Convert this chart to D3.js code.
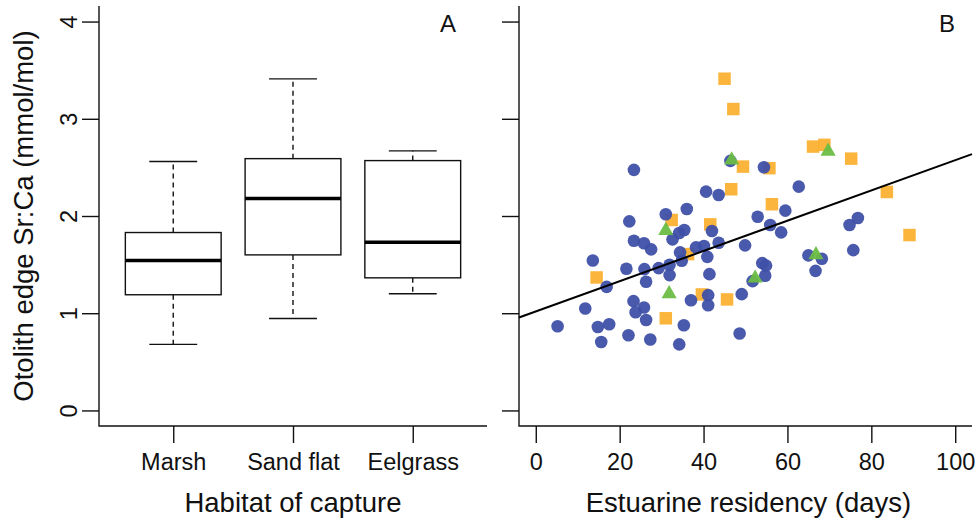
<!DOCTYPE html>
<html>
<head>
<meta charset="utf-8">
<script src="https://cdn.jsdelivr.net/npm/d3@7"></script>
<style>
  body { margin: 0; background: #fff; }
  svg { font-family: "Liberation Sans", Arial, Helvetica, sans-serif; }
</style>
</head>
<body>
<div id="chart"></div>
<script>
// panel A: boxplot by habitat
var habitats = ["Marsh", "Sand flat", "Eelgrass"];
var whiskerLow = [0.68, 0.945, 1.20];
var q1 = [1.19, 1.60, 1.364];
var medians = [1.543, 2.18, 1.73];
var q3 = [1.83, 2.59, 2.57];
var whiskerHigh = [2.56, 3.41, 2.67];
var yTicks = [0, 1, 2, 3, 4];

// panel B: residency vs Sr:Ca
var circleX = [23.4, 40.6, 43.6, 36.0, 31.0, 22.3, 34.2, 35.4, 32.6, 23.4, 25.8, 27.5, 38.2, 40.1, 43.6, 42.0,
  46.4, 13.6, 34.4, 40.9, 21.6, 25.9, 29.3, 31.9, 34.8, 31.9, 26.3, 41.4, 16.9, 11.8, 23.3, 25.8, 23.8, 26.3,
  41.1, 41.1, 37.0, 5.2, 14.8, 17.5, 22.1, 15.6, 27.3, 34.2, 35.3, 49.1, 48.6, 54.4, 62.7, 52.9, 55.9, 59.5,
  58.5, 49.9, 74.8, 76.8, 75.7, 65.0, 68.2, 66.7, 54.0, 54.9, 54.7, 51.7];
var circleY = [2.474, 2.251, 2.216, 2.072, 2.018, 1.945, 1.825, 1.856, 1.760, 1.745, 1.719, 1.657, 1.677, 1.691, 1.725, 1.845,
  2.567, 1.543, 1.626, 1.580, 1.457, 1.454, 1.464, 1.498, 1.539, 1.392, 1.323, 1.402, 1.271, 1.048, 1.124, 1.059, 1.010, 0.931,
  1.186, 1.082, 1.134, 0.866, 0.859, 0.887, 0.773, 0.704, 0.729, 0.680, 0.876, 1.196, 0.791, 2.502, 2.302, 1.993, 1.907, 2.055,
  1.832, 1.698, 1.907, 1.979, 1.649, 1.595, 1.560, 1.436, 1.515, 1.490, 1.385, 1.330];
var squareX = [45.0, 47.1, 46.6, 32.4, 41.6, 36.3, 14.5, 39.6, 45.6, 31.0, 49.4, 55.7, 56.3, 66.1, 68.8, 75.2, 83.7, 89.1];
var squareY = [3.412, 3.100, 2.275, 1.959, 1.914, 1.608, 1.368, 1.193, 1.142, 0.948, 2.508, 2.492, 2.121, 2.714, 2.732, 2.590, 2.247, 1.804];
var triangleX = [31.0, 31.8, 46.7, 69.7, 66.8, 52.3];
var triangleY = [1.85, 1.20, 2.575, 2.665, 1.60, 1.36];
var fitIntercept = 1.018;
var fitSlope = 0.01556;
var xTicksB = [0, 20, 40, 60, 80, 100];

var width = 977, height = 520;
var plotTop = 6, plotBottom = 426;

var svg = d3.select("#chart").append("svg")
  .attr("width", width)
  .attr("height", height);

var yScale = d3.scaleLinear().domain([-0.16, 4.16]).range([plotBottom, plotTop]);

// ---------- panel A ----------
var xA = d3.scaleLinear().domain([0.38, 3.62]).range([99, 487]);
var gA = svg.append("g");

var yAxisA = d3.axisLeft(yScale).tickValues(yTicks).tickSize(17).tickFormat(d3.format("d"));
var yAxisAg = gA.append("g").attr("transform", "translate(99,0)").call(yAxisA);
yAxisAg.select(".domain").remove();

var xAxisA = d3.axisBottom(xA).tickValues([1, 2, 3]).tickSize(17).tickFormat((d, i) => habitats[i]);
var xAxisAg = gA.append("g").attr("transform", `translate(0,${plotBottom})`).call(xAxisA);
xAxisAg.select(".domain").remove();

// L shaped frame
gA.append("path")
  .attr("d", `M${xA.range()[0]},${plotTop}V${plotBottom}H${xA.range()[1]}`)
  .attr("fill", "none").attr("stroke", "#111").attr("stroke-width", 1.4);

var boxes = gA.selectAll(".box").data(habitats).enter().append("g").attr("class", "box");
var bw = 0.4;

boxes.append("line")
  .attr("x1", (d, i) => xA(i + 1)).attr("x2", (d, i) => xA(i + 1))
  .attr("y1", (d, i) => yScale(q3[i])).attr("y2", (d, i) => yScale(whiskerHigh[i]))
  .attr("stroke", "#111").attr("stroke-width", 1.4).attr("stroke-dasharray", "5,4");
boxes.append("line")
  .attr("x1", (d, i) => xA(i + 1)).attr("x2", (d, i) => xA(i + 1))
  .attr("y1", (d, i) => yScale(q1[i])).attr("y2", (d, i) => yScale(whiskerLow[i]))
  .attr("stroke", "#111").attr("stroke-width", 1.4).attr("stroke-dasharray", "5,4");
boxes.append("line")
  .attr("x1", (d, i) => xA(i + 1 - bw / 2)).attr("x2", (d, i) => xA(i + 1 + bw / 2))
  .attr("y1", (d, i) => yScale(whiskerHigh[i])).attr("y2", (d, i) => yScale(whiskerHigh[i]))
  .attr("stroke", "#111").attr("stroke-width", 1.4);
boxes.append("line")
  .attr("x1", (d, i) => xA(i + 1 - bw / 2)).attr("x2", (d, i) => xA(i + 1 + bw / 2))
  .attr("y1", (d, i) => yScale(whiskerLow[i])).attr("y2", (d, i) => yScale(whiskerLow[i]))
  .attr("stroke", "#111").attr("stroke-width", 1.4);
boxes.append("rect")
  .attr("x", (d, i) => xA(i + 1 - bw))
  .attr("width", (d, i) => xA(i + 1 + bw) - xA(i + 1 - bw))
  .attr("y", (d, i) => yScale(q3[i]))
  .attr("height", (d, i) => yScale(q1[i]) - yScale(q3[i]))
  .attr("fill", "#fff").attr("stroke", "#111").attr("stroke-width", 1.4);
boxes.append("line")
  .attr("x1", (d, i) => xA(i + 1 - bw)).attr("x2", (d, i) => xA(i + 1 + bw))
  .attr("y1", (d, i) => yScale(medians[i])).attr("y2", (d, i) => yScale(medians[i]))
  .attr("stroke", "#000").attr("stroke-width", 3.4);

gA.append("text").attr("x", 448).attr("y", 32).attr("text-anchor", "middle")
  .attr("font-size", 24).attr("fill", "#111").text("A");

// ---------- panel B ----------
var xB = d3.scaleLinear().domain([-4, 104]).range([519, 972]);
var gB = svg.append("g");

var yAxisB = d3.axisLeft(yScale).tickValues(yTicks).tickSize(17).tickFormat("");
var yAxisBg = gB.append("g").attr("transform", "translate(519,0)").call(yAxisB);
yAxisBg.select(".domain").remove();

var xAxisB = d3.axisBottom(xB).tickValues(xTicksB).tickSize(17).tickFormat(d3.format("d"));
var xAxisBg = gB.append("g").attr("transform", `translate(0,${plotBottom})`).call(xAxisB);
xAxisBg.select(".domain").remove();

gB.append("path")
  .attr("d", `M${xB.range()[0]},${plotTop}V${plotBottom}H${xB.range()[1]}`)
  .attr("fill", "none").attr("stroke", "#111").attr("stroke-width", 1.4);

gB.selectAll(".sq").data(squareX).enter().append("path")
  .attr("class", "sq")
  .attr("d", d3.symbol(d3.symbolSquare, 156))
  .attr("transform", (d, i) => `translate(${xB(d)},${yScale(squareY[i])})`)
  .attr("fill", "#fbb131").attr("fill-opacity", 0.95);

gB.selectAll(".ci").data(circleX).enter().append("circle")
  .attr("class", "ci")
  .attr("cx", d => xB(d))
  .attr("cy", (d, i) => yScale(circleY[i]))
  .attr("r", 6.3)
  .attr("fill", "#3f50a8").attr("fill-opacity", 0.95);

gB.selectAll(".tr").data(triangleX).enter().append("path")
  .attr("class", "tr")
  .attr("d", d3.symbol(d3.symbolTriangle, 100))
  .attr("transform", (d, i) => `translate(${xB(d)},${yScale(triangleY[i])})`)
  .attr("fill", "#6cbd45").attr("fill-opacity", 0.95);

var xd = xB.domain();
gB.append("line")
  .attr("x1", xB(xd[0])).attr("y1", yScale(fitIntercept + fitSlope * xd[0]))
  .attr("x2", xB(xd[1])).attr("y2", yScale(fitIntercept + fitSlope * xd[1]))
  .attr("stroke", "#000").attr("stroke-width", 2);

gB.append("text").attr("x", 947).attr("y", 32).attr("text-anchor", "middle")
  .attr("font-size", 24).attr("fill", "#111").text("B");

// ---------- shared styling ----------
svg.selectAll(".tick line").attr("stroke", "#111").attr("stroke-width", 1.4);
svg.selectAll(".tick text").attr("fill", "#111").attr("font-size", 23.5)
  .attr("font-family", "'Liberation Sans', Arial, sans-serif");
yAxisAg.selectAll(".tick text")
  .attr("transform", "rotate(-90)")
  .attr("x", 0).attr("y", -22).attr("dy", null)
  .attr("text-anchor", "middle");
xAxisAg.selectAll(".tick text").attr("y", 44).attr("dy", null);
xAxisBg.selectAll(".tick text").attr("y", 44).attr("dy", null);

svg.append("text")
  .attr("transform", "translate(33,216) rotate(-90)")
  .attr("text-anchor", "middle").attr("font-size", 27.5).attr("fill", "#111")
  .text("Otolith edge Sr:Ca (mmol/mol)");
svg.append("text")
  .attr("x", (xA.range()[0] + xA.range()[1]) / 2).attr("y", 512)
  .attr("text-anchor", "middle").attr("font-size", 27.5).attr("fill", "#111")
  .text("Habitat of capture");
svg.append("text")
  .attr("x", (xB.range()[0] + xB.range()[1]) / 2 + 3).attr("y", 512)
  .attr("text-anchor", "middle").attr("font-size", 27.5).attr("fill", "#111")
  .text("Estuarine residency (days)");
</script>
</body>
</html>
